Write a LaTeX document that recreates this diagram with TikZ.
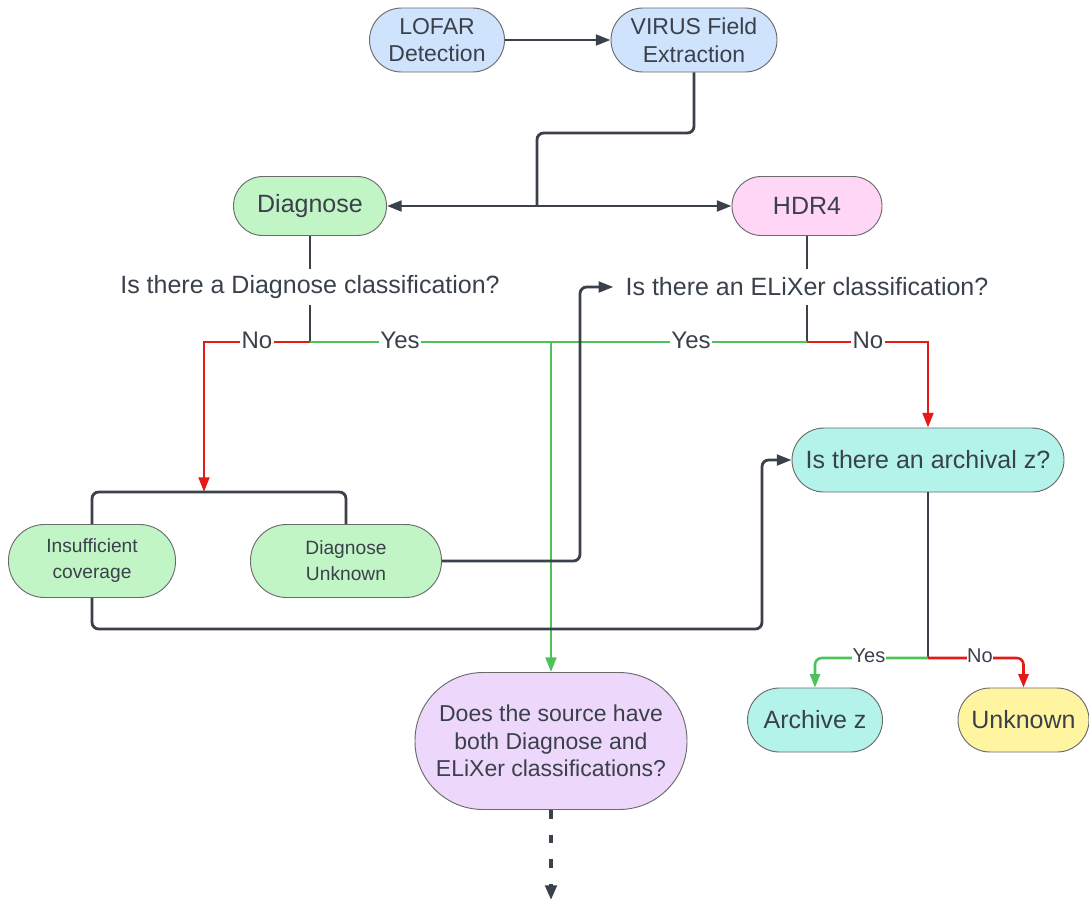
\documentclass[tikz,border=0pt]{standalone}
\usepackage{fontspec}
\setmainfont{Liberation Sans}
\usetikzlibrary{arrows.meta}
\definecolor{txt}{HTML}{3A414B}
\definecolor{ln}{HTML}{3A414B}
\definecolor{gr}{HTML}{4DC25A}
\definecolor{rd}{HTML}{E51A16}
\definecolor{fblue}{HTML}{CFE3FD}
\definecolor{fgreen}{HTML}{C2F5C6}
\definecolor{fpink}{HTML}{FFD6F6}
\definecolor{fcyan}{HTML}{B4F3EA}
\definecolor{fyellow}{HTML}{FFF5A1}
\definecolor{fpurple}{HTML}{EDD7FB}
\definecolor{bord}{HTML}{6B6B6B}
\tikzset{
  box/.style={draw=bord, line width=0.7pt, text=txt, align=center, inner sep=0pt},
  fsTop/.style={font=\fontsize{17.25}{20.7}\selectfont},
  fsMain/.style={font=\fontsize{18.75}{22.5}\selectfont},
  fsSmall/.style={font=\fontsize{14.4}{19.5}\selectfont},
  conn/.style={draw=ln, line width=2.1pt},
  rc/.style={rounded corners=5pt},
  tip/.style={-{Triangle[length=11pt,width=8pt]}},
  lab/.style={fill=white, text=txt, inner sep=1pt, font=\fontsize{18}{20}\selectfont},
  slab/.style={fill=white, text=txt, inner sep=0.5pt, font=\fontsize{15}{18}\selectfont},
  qtext/.style={text=txt, inner sep=0pt, minimum height=26pt, font=\fontsize{18.75}{22.5}\selectfont},
}
\begin{document}
\begin{tikzpicture}[x=0.75pt,y=-0.75pt]
\fill[white] (0,0) rectangle (1089,901);
\useasboundingbox (0,0) rectangle (1089,901);

% nodes
\node[box, fsTop, fill=fblue, minimum width=101.25pt, minimum height=48pt, rounded corners=24pt] (lofar) at (437,40) {LOFAR\\Detection};
\node[box, fsTop, fill=fblue, minimum width=124.5pt, minimum height=48pt, rounded corners=24pt] (virus) at (694,40) {VIRUS Field\\Extraction};
\node[box, fsMain, fill=fgreen, minimum width=114.75pt, minimum height=44.25pt, rounded corners=22pt] (diag) at (310,206) {Diagnose};
\node[box, fsMain, fill=fpink, minimum width=112.5pt, minimum height=44.25pt, rounded corners=22pt] (hdr) at (807,206) {HDR4};
\node[qtext] (q1) at (310,287) {Is there a Diagnose classification?};
\node[qtext, inner xsep=9pt] (q2) at (807,287) {Is there an ELiXer classification?};
\node[box, fsMain, fill=fcyan, minimum width=204pt, minimum height=48pt, rounded corners=24pt] (arch) at (928,460) {Is there an archival z?};
\node[box, fsSmall, fill=fgreen, minimum width=125.25pt, minimum height=54.75pt, rounded corners=27pt] (ins) at (92,561) {Insufficient\\coverage};
\node[box, fsSmall, fill=fgreen, minimum width=143.25pt, minimum height=54.75pt, rounded corners=27pt] (dun) at (346,561) {Diagnose\\Unknown};
\node[box, fsMain, fill=fcyan, minimum width=101.25pt, minimum height=48pt, rounded corners=24pt] (az) at (815,720) {Archive z};
\node[box, fsMain, fill=fyellow, minimum width=98.25pt, minimum height=48pt, rounded corners=24pt] (unk) at (1023.5,720) {Unknown};
\node[box, fsTop, fill=fpurple, minimum width=204pt, minimum height=102.75pt, rounded corners=51pt] (does) at (551,741) {Does the source have\\both Diagnose and\\ELiXer classifications?};

% coordinates
\coordinate (s1) at (537,206);
\coordinate (j1) at (310,342);
\coordinate (j2) at (807,342);
\coordinate (br) at (204,492);
\coordinate (j3) at (928,658);
\coordinate (dend) at (551,900);

% top connectors
\draw[conn, tip] (lofar) -- (virus);
\draw[conn, rc] (virus.south) -- (694,133) -- (537,133) -- (s1);
\draw[conn, tip] (s1) -- (diag.east);
\draw[conn, tip] (s1) -- (hdr.west);

% question stems
\draw[conn] (diag.south) -- (q1.north);
\draw[conn] (q1.south) -- (j1);
\draw[conn] (hdr.south) -- (q2.north);
\draw[conn] (q2.south) -- (j2);

% yes / no branches
\draw[draw=gr, line width=2.1pt] (j1) -- (j2);
\draw[draw=gr, line width=2.1pt, tip] (does.north |- j1) -- (does.north);
\draw[draw=rd, line width=2.1pt, tip] (j1) -- (br |- j1) -- (br);
\draw[draw=rd, line width=2.1pt, tip] (j2) -- (arch.north |- j2) -- (arch.north);

% bracket over the two diagnose outcome nodes
\draw[conn, rc] (ins.north) -- (ins.north |- br) -- (dun.north |- br) -- (dun.north);

% diagnose unknown -> ELiXer question
\draw[conn, rc, tip] (dun.east) -- (580,561) -- (580,287) -- (q2.west);
% insufficient coverage -> archival
\draw[conn, rc, tip] (ins.south) -- (92,629) -- (762,629) -- (762,460) -- (arch.west);

% archival branches
\draw[conn, line width=1.5pt] (arch.south) -- (j3);
\draw[draw=gr, line width=1.9pt, rounded corners=5pt, -{Triangle[length=10pt,width=7.5pt]}] (j3) -- (az.north |- j3) -- (az.north);
\draw[draw=rd, line width=1.9pt, rounded corners=5pt, -{Triangle[length=10pt,width=7.5pt]}] (j3) -- (unk.north |- j3) -- (unk.north);

% dashed continuation
\draw[conn, line width=2.8pt, dash pattern=on 6.5pt off 12pt, -{Triangle[length=11pt,width=8.5pt]}] (does.south) -- (dend);

% labels
\node[lab] at (257,340) {No};
\node[lab] at (400,340) {Yes};
\node[lab] at (691,340) {Yes};
\node[lab] at (868,340) {No};
\node[slab] at (869,656) {Yes};
\node[slab] at (980,656) {No};
\end{tikzpicture}
\end{document}
